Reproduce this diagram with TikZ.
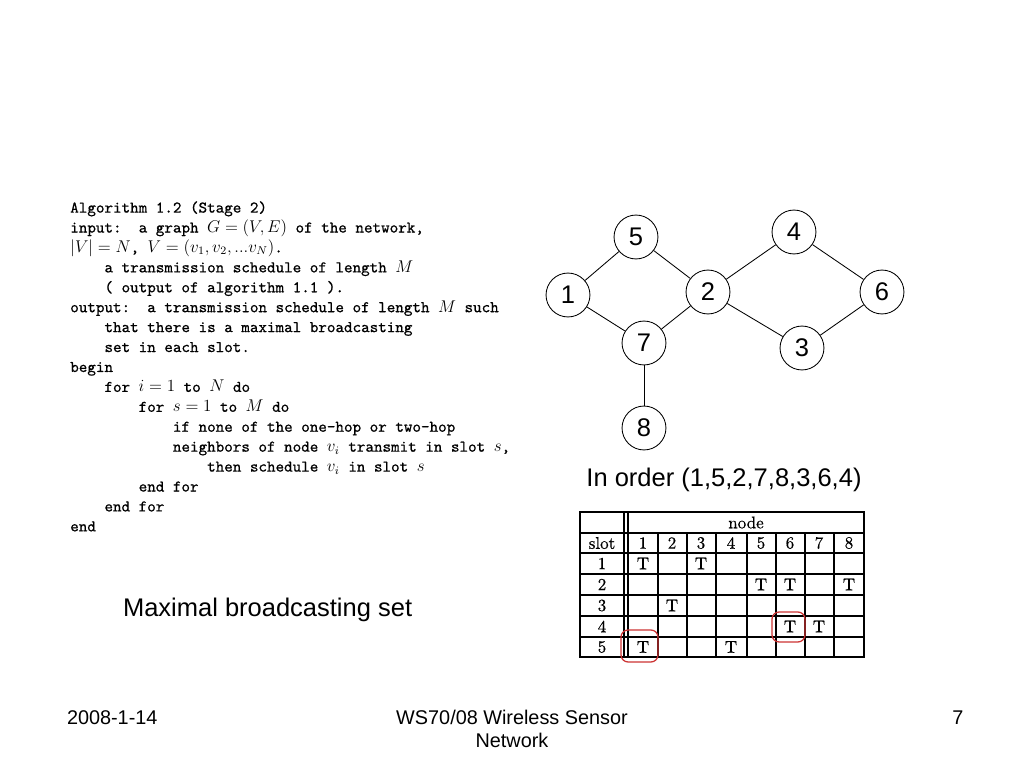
\documentclass[tikz,border=0pt]{standalone}
\usepackage{fontspec}
\newfontfamily\slidefont{Liberation Sans}
\newfontfamily\algfont{lmmono10-regular.otf}[FakeBold=0.7]
\newfontfamily\tabfont{lmroman10-regular.otf}[FakeBold=0.5]
\newcommand{\algind}[1]{\hspace*{#1em}}

\begin{document}
\begin{tikzpicture}[x=0.703125bp,y=-0.703125bp,
  vertex/.style={draw,circle,line width=0.6pt,minimum size=31,inner sep=0pt,font=\slidefont\fontsize{18}{18}\selectfont},
  cell/.style={font=\tabfont\fontsize{12}{12}\selectfont,inner sep=0pt},
  redbox/.style={draw=red!75!black!80,line width=0.9pt,rounded corners=5pt}]
\useasboundingbox (0,0) rectangle (1024,768);
% algorithm
\node [anchor=north west,inner sep=0pt,align=left,font=\algfont\fontsize{11.5}{14.06}\selectfont] (algo) at (70,201) {%
Algorithm 1.2 (Stage 2)\\
input:\algind{1.05}a graph \(G=(V,E)\) of the network,\\
\(|V|=N\), \(V=(v_1,v_2,...v_N)\).\\
\algind{2.1}a transmission schedule of length \(M\)\\
\algind{2.1}( output of algorithm 1.1 ).\\
output:\algind{1.05}a transmission schedule of length \(M\) such\\
\algind{2.1}that there is a maximal broadcasting\\
\algind{2.1}set in each slot.\\
begin\\
\algind{2.1}for \(i=1\) to \(N\) do\\
\algind{4.2}for \(s=1\) to \(M\) do\\
\algind{6.3}if none of the one-hop or two-hop\\
\algind{6.3}neighbors of node \(v_i\) transmit in slot \(s\),\\
\algind{8.4}then schedule \(v_i\) in slot \(s\)\\
\algind{4.2}end for\\
\algind{2.1}end for\\
end};
\node [anchor=west,font=\slidefont\fontsize{18}{18}\selectfont] (caption) at (118,610) {Maximal broadcasting set};
% graph
\node [vertex] (n5) at (636,237) {5};
\node [vertex] (n4) at (794,232) {4};
\node [vertex] (n1) at (568,295) {1};
\node [vertex] (n2) at (708,292) {2};
\node [vertex] (n6) at (882,292) {6};
\node [vertex] (n7) at (644,343) {7};
\node [vertex] (n3) at (802,348) {3};
\node [vertex] (n8) at (644,428) {8};
\draw [line width=0.6pt] (n1) -- (n5);
\draw [line width=0.6pt] (n1) -- (n7);
\draw [line width=0.6pt] (n5) -- (n2);
\draw [line width=0.6pt] (n7) -- (n2);
\draw [line width=0.6pt] (n2) -- (n4);
\draw [line width=0.6pt] (n2) -- (n3);
\draw [line width=0.6pt] (n4) -- (n6);
\draw [line width=0.6pt] (n3) -- (n6);
\draw [line width=0.6pt] (n7) -- (n8);
\node [font=\slidefont\fontsize{18}{18}\selectfont] (order) at (724,480) {In order (1,5,2,7,8,3,6,4)};
% table
\draw [line width=1.4pt] (580,512) rectangle (864,657);
\draw [line width=1.4pt] (624,512) -- (624,657);
\draw [line width=1.4pt] (628,512) -- (628,657);
\draw [line width=1.4pt] (580,533) -- (864,533);
\draw [line width=1.4pt] (580,553) -- (864,553);
\draw [line width=1.4pt] (580,574) -- (864,574);
\draw [line width=1.4pt] (580,595) -- (864,595);
\draw [line width=1.4pt] (580,616) -- (864,616);
\draw [line width=1.4pt] (580,637) -- (864,637);
\draw [line width=1.4pt] (658,533) -- (658,657);
\draw [line width=1.4pt] (687,533) -- (687,657);
\draw [line width=1.4pt] (716,533) -- (716,657);
\draw [line width=1.4pt] (747,533) -- (747,657);
\draw [line width=1.4pt] (776,533) -- (776,657);
\draw [line width=1.4pt] (805,533) -- (805,657);
\draw [line width=1.4pt] (834,533) -- (834,657);
\node [cell] (hnode) at (746,522.5) {node};
\node [cell] (hslot) at (602,543) {slot};
\node [cell] (h1) at (643,543) {1};
\node [cell] (h2) at (672,543) {2};
\node [cell] (h3) at (701,543) {3};
\node [cell] (h4) at (731,543) {4};
\node [cell] (h5) at (761,543) {5};
\node [cell] (h6) at (790,543) {6};
\node [cell] (h7) at (819,543) {7};
\node [cell] (h8) at (849,543) {8};
\node [cell] (s1) at (602,563.5) {1};
\node [cell] (s2) at (602,584.5) {2};
\node [cell] (s3) at (602,605.5) {3};
\node [cell] (s4) at (602,626.5) {4};
\node [cell] (s5) at (602,647) {5};
\node [cell] (t11) at (643,563.5) {T};
\node [cell] (t13) at (701,563.5) {T};
\node [cell] (t25) at (761,584.5) {T};
\node [cell] (t26) at (790,584.5) {T};
\node [cell] (t28) at (849,584.5) {T};
\node [cell] (t32) at (672,605.5) {T};
\node [cell] (t46) at (790,626.5) {T};
\node [cell] (t47) at (819,626.5) {T};
\node [cell] (t51) at (643,647) {T};
\node [cell] (t54) at (731,647) {T};
\draw [redbox] (621,630) rectangle (658,662);
\draw [redbox] (772,612) rectangle (805,642);
% footer
\node [anchor=west,font=\slidefont\fontsize{14}{14}\selectfont] (date) at (62,718) {2008-1-14};
\node [align=center,font=\slidefont\fontsize{14}{16.2}\selectfont] (course) at (512,729) {WS70/08 Wireless Sensor\\Network};
\node [font=\slidefont\fontsize{14}{14}\selectfont] (page) at (958,718) {7};
\end{tikzpicture}
\end{document}
